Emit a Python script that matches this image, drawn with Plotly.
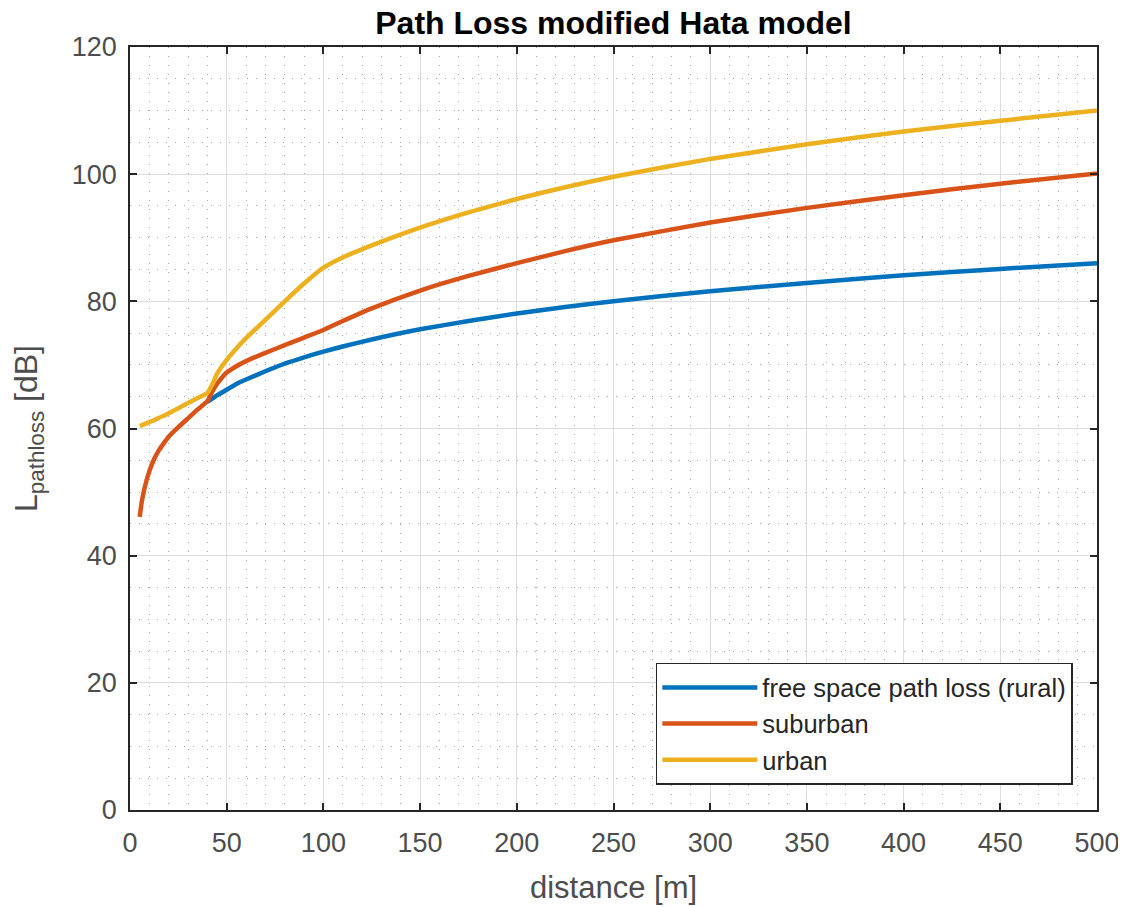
import plotly.graph_objects as go

# distances [m]
d_rural = [40, 42.5, 45, 50, 55, 60, 70, 80, 90, 100, 110, 125, 150, 175, 200, 225, 250, 300, 350, 400, 450, 500]
d_all = [5, 6, 7.5, 10, 12.5, 15, 17.5, 20, 25, 30, 35, 40, 42.5, 45, 50, 55, 60, 70, 80, 90, 100, 110, 125, 150, 175, 200, 225, 250, 300, 350, 400, 450, 500]

# path loss [dB]
rural = [64.2, 64.7, 65.2, 66.1, 67.0, 67.7, 69.0, 70.2, 71.2, 72.1, 72.9, 74.0, 75.6, 76.9, 78.1, 79.1, 80.0, 81.6, 82.9, 84.1, 85.1, 86.0]
suburban = [46.1, 48.3, 50.6, 53.3, 55.2, 56.6, 57.7, 58.7, 60.2, 61.6, 63.0, 64.3, 65.8, 67.0, 68.8, 69.8, 70.6, 71.9, 73.1, 74.3, 75.5, 76.9, 78.9, 81.7, 84.0, 86.0, 87.9, 89.6, 92.4, 94.7, 96.7, 98.5, 100.1]
urban = [60.4, 60.5, 60.7, 61.0, 61.3, 61.7, 62.0, 62.4, 63.2, 64.0, 64.8, 65.6, 66.9, 68.6, 70.8, 72.6, 74.2, 77.1, 80.0, 82.8, 85.3, 86.9, 88.8, 91.6, 94.0, 96.1, 97.95, 99.6, 102.4, 104.7, 106.7, 108.4, 110.0]

names = ["free space path loss (rural)", "suburban", "urban"]
colors = ["#0072BD", "#D95319", "#EDB120"]

x_ticks = list(range(0, 501, 50))
y_ticks = list(range(0, 121, 20))

FONT = "Liberation Sans, Arial, sans-serif"

fig = go.Figure()
for xs, ys, nm, col in [(d_rural, rural, names[0], colors[0]),
                        (d_all, suburban, names[1], colors[1]),
                        (d_all, urban, names[2], colors[2])]:
    fig.add_trace(go.Scatter(x=xs, y=ys, mode="lines", name=nm,
                             line=dict(color=col, width=4.5, shape="spline", smoothing=0.5)))

axis_common = dict(
    showline=True, linecolor="#262626", linewidth=1.5, mirror="ticks",
    ticks="inside", ticklen=7, tickcolor="#262626", tickwidth=1.5,
    showgrid=True, gridcolor="#dcdcdc", gridwidth=1.2,
    zeroline=False, automargin=False,
    tickfont=dict(family=FONT, size=27, color="#4d4d4d"),
)

minor_common = dict(showgrid=True, griddash="1px,8px", gridcolor="#a8a8a8", gridwidth=1, ticks="")

fig.update_xaxes(range=[0, 500], tickvals=x_ticks,
                 minor=dict(dtick=10, tick0=0, **minor_common),
                 ticklabelstandoff=8,
                 title=dict(text="distance [m]", standoff=19,
                            font=dict(family=FONT, size=31, color="#4d4d4d")),
                 **axis_common)
fig.update_yaxes(range=[0, 120], tickvals=y_ticks,
                 minor=dict(dtick=5, tick0=0, **minor_common),
                 title=dict(text="L<sub>pathloss</sub> [dB]", standoff=30,
                            font=dict(family=FONT, size=32, color="#4d4d4d")),
                 ticklabelstandoff=6,
                 **axis_common)

# the page body adds an 8px offset, so the figure is sized to fit the window
W, H = 1118, 899
fig.update_layout(
    width=W, height=H,
    margin=dict(l=122, r=29, t=39, b=97, autoexpand=False),
    paper_bgcolor="white", plot_bgcolor="white",
    title=dict(text="<b>Path Loss modified Hata model</b>", x=0.5, xref="paper",
               y=1 - 15 / H, yanchor="middle", xanchor="center",
               font=dict(family=FONT, size=32, color="black")),
    legend=dict(x=0.975, y=0.033, xanchor="right", yanchor="bottom",
                bgcolor="white", bordercolor="#262626", borderwidth=1.5,
                itemwidth=95, tracegroupgap=0,
                font=dict(family=FONT, size=25.5, color="#262626")),
    showlegend=True,
)

fig.write_html("out.html")
